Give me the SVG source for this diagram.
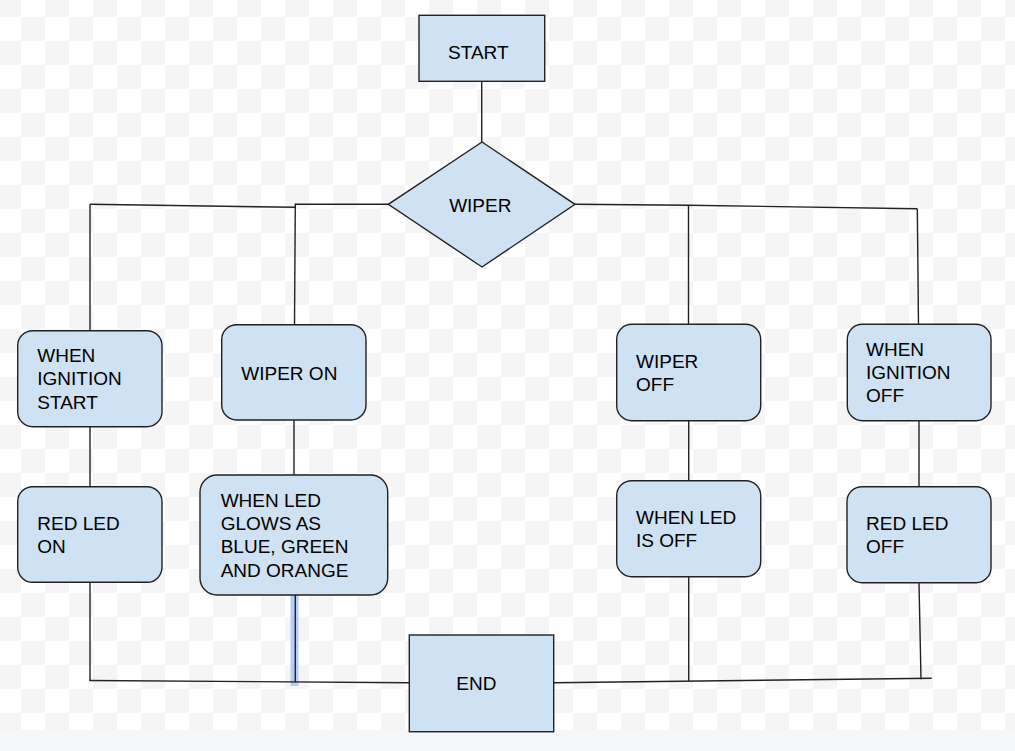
<svg xmlns="http://www.w3.org/2000/svg" width="1015" height="751" viewBox="0 0 1015 751">
<defs>
<pattern id="checker" x="-3" y="-7" width="48" height="48" patternUnits="userSpaceOnUse">
<rect width="48" height="48" fill="#ffffff"/>
<rect width="24" height="24" fill="#f5f5f5"/>
<rect x="24" y="24" width="24" height="24" fill="#f5f5f5"/>
</pattern>
<style>
.box{fill:#cfe2f3;stroke:#222;stroke-width:1.4}
.ln{fill:none;stroke:#222;stroke-width:1.4}
.t{font-family:"Liberation Sans",Arial,sans-serif;font-size:19px;fill:#000}
.c{text-anchor:middle}
</style>
</defs>
<rect width="1015" height="751" fill="url(#checker)"/>
<rect y="730" width="1015" height="21" fill="#f6f7f9"/>

<g id="connectors">
<rect x="290.5" y="592" width="8" height="94" fill="#b4cdf7"/>
<line class="ln" x1="481.7" y1="81" x2="481.7" y2="142"/>
<line class="ln" x1="388" y1="204.3" x2="295.5" y2="204.3"/>
<line class="ln" x1="90" y1="204.3" x2="296" y2="207.3"/>
<line class="ln" x1="90" y1="204.3" x2="90" y2="330.7"/>
<line class="ln" x1="295.3" y1="203.5" x2="294.5" y2="324.7"/>
<polyline class="ln" points="575,204.3 688.3,205.3 917.3,208.7"/>
<line class="ln" x1="688.5" y1="205" x2="688.5" y2="324.3"/>
<line class="ln" x1="917.3" y1="208.7" x2="918.5" y2="324.3"/>
<line class="ln" x1="90" y1="426.7" x2="90" y2="486.7"/>
<line class="ln" x1="294" y1="420" x2="294" y2="475"/>
<line class="ln" x1="688.7" y1="420.7" x2="688.7" y2="480.7"/>
<line class="ln" x1="919" y1="420.7" x2="919" y2="486.7"/>
<line class="ln" x1="90" y1="582.3" x2="90" y2="680.5"/>
<line class="ln" x1="89.3" y1="680.5" x2="409.3" y2="682.7"/>
<line class="ln" x1="295.3" y1="595" x2="295.3" y2="682"/>
<line class="ln" x1="688.7" y1="576.7" x2="688.7" y2="681"/>
<line class="ln" x1="919" y1="582.7" x2="921" y2="679.3"/>
<line class="ln" x1="554" y1="682.7" x2="931.7" y2="678.3"/>
</g>

<g id="start">
<rect class="box" x="419" y="15.3" width="125.7" height="66"/>
<text class="t c" x="478.3" y="59">START</text>
</g>

<g id="wiper">
<polygon class="box" points="482,142 575,204.3 482,267 388.3,204.3"/>
<text class="t c" x="480.3" y="211.7">WIPER</text>
</g>

<g id="ignition-start">
<rect class="box" x="17.7" y="330.7" width="144.3" height="96" rx="15"/>
<text class="t" x="37.3" y="362">WHEN</text>
<text class="t" x="37.3" y="385.4">IGNITION</text>
<text class="t" x="37.3" y="408.7">START</text>
</g>

<g id="wiper-on">
<rect class="box" x="221.7" y="324.7" width="144.3" height="95.3" rx="15"/>
<text class="t" x="241.3" y="380">WIPER ON</text>
</g>

<g id="wiper-off">
<rect class="box" x="616.7" y="324.3" width="144" height="96.4" rx="15"/>
<text class="t" x="636" y="368.4">WIPER</text>
<text class="t" x="636" y="391">OFF</text>
</g>

<g id="ignition-off">
<rect class="box" x="847.3" y="324.3" width="143.7" height="96.4" rx="15"/>
<text class="t" x="866" y="356">WHEN</text>
<text class="t" x="866" y="379.4">IGNITION</text>
<text class="t" x="866" y="402.4">OFF</text>
</g>

<g id="red-led-on">
<rect class="box" x="17.7" y="486.7" width="144.3" height="95.6" rx="15"/>
<text class="t" x="37.3" y="530">RED LED</text>
<text class="t" x="37.3" y="553.4">ON</text>
</g>

<g id="led-glows">
<rect class="box" x="200" y="475" width="187.7" height="120" rx="17"/>
<text class="t" x="220.7" y="506.7">WHEN LED</text>
<text class="t" x="220.7" y="530">GLOWS AS</text>
<text class="t" x="220.7" y="553.4">BLUE, GREEN</text>
<text class="t" x="220.7" y="576.7">AND ORANGE</text>
</g>

<g id="led-off">
<rect class="box" x="616.7" y="480.7" width="144" height="96" rx="15"/>
<text class="t" x="636" y="524">WHEN LED</text>
<text class="t" x="636" y="546.7">IS OFF</text>
</g>

<g id="red-led-off">
<rect class="box" x="847" y="486.7" width="144" height="96" rx="15"/>
<text class="t" x="866" y="530">RED LED</text>
<text class="t" x="866" y="553">OFF</text>
</g>

<g id="end">
<rect class="box" x="409.3" y="635" width="144.4" height="96.7"/>
<text class="t c" x="476.3" y="690">END</text>
</g>
</svg>
